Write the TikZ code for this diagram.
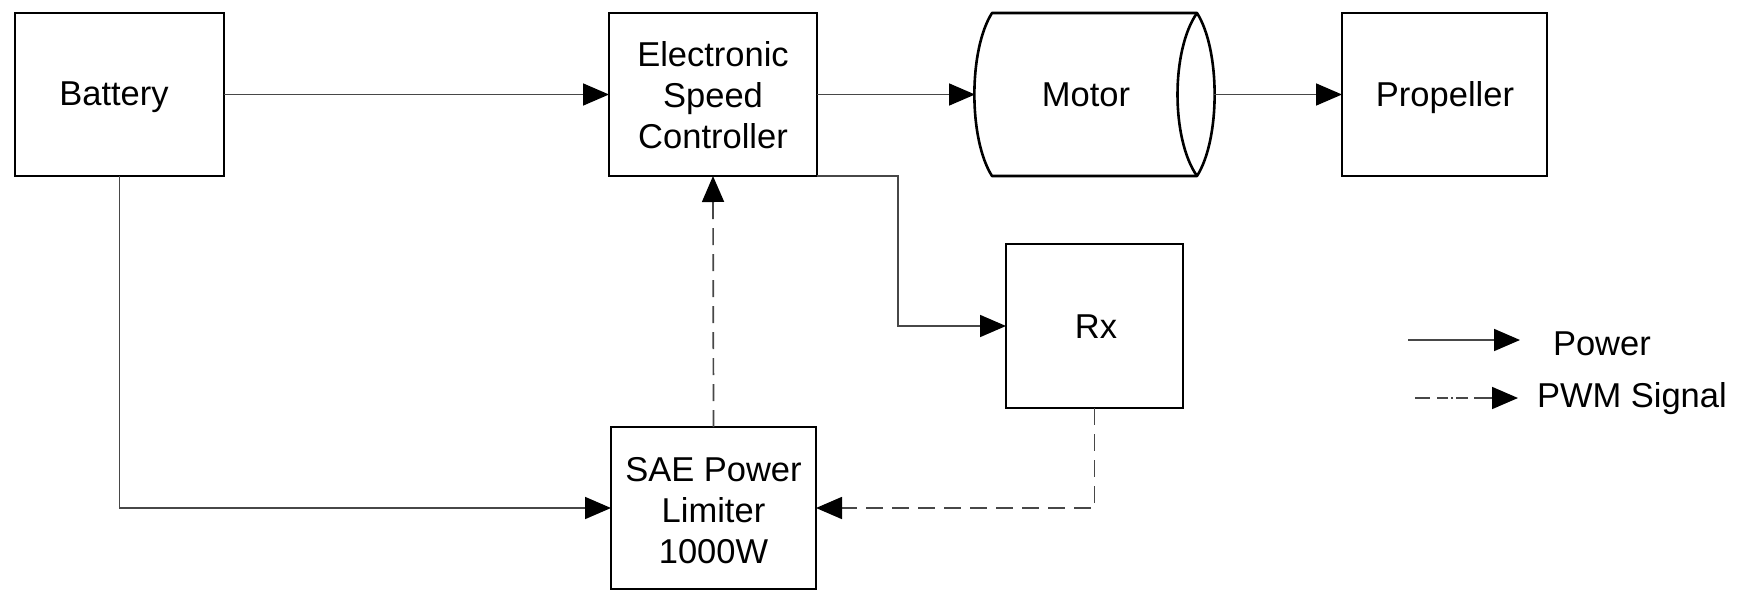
\documentclass[tikz,border=0pt]{standalone}
\usepackage{fontspec}
\setmainfont{Liberation Sans}
\usetikzlibrary{arrows.meta}
\begin{document}
\begin{tikzpicture}[x=1pt,y=-1pt,
  every node/.style={font=\fontsize{34.5}{41}\selectfont, inner sep=0pt, outer sep=0pt},
  blockbox/.style={draw=black, line width=2.6pt, align=center},
  conn/.style={draw=black!72, line width=1.7pt, -{Triangle[length=26pt,width=22pt,fill=black,color=black]}},
  sig/.style={conn, dash pattern=on 17pt off 9pt},
  motorline/.style={draw=black, line width=2.6pt}
]
\useasboundingbox (0,0) rectangle (1741,592);

\node[blockbox, minimum width=209pt, minimum height=163pt] (bat) at (119.5,94.5) {};
\node[anchor=base] (battext) at (114,105.5) {Battery};
\node[blockbox, minimum width=208pt, minimum height=163pt] (esc) at (713,94.5) {};
\node[align=center] (esctext) at (713,95) {Electronic\\Speed\\Controller};
\node[minimum width=239pt, minimum height=165pt] (motor) at (1094.5,94.5) {};
\node[anchor=base] (motortext) at (1086,106) {Motor};
\node[blockbox, minimum width=205pt, minimum height=163pt] (prop) at (1444.5,94.5) {};
\node[anchor=base] (proptext) at (1445,106.5) {Propeller};
\node[blockbox, minimum width=177pt, minimum height=164pt] (rx) at (1094.5,326) {};
\node[anchor=base] (rxtext) at (1096,338) {Rx};
\node[blockbox, minimum width=205pt, minimum height=162pt] (sae) at (713.5,508) {};
\node[align=center] (saetext) at (713.5,510.5) {SAE Power\\Limiter\\1000W};

% motor outline
\draw[motorline, line join=round] (992,13) -- (1197,13)
  .. controls (1220.5,50) and (1220.5,139) .. (1197,176)
  -- (992,176)
  .. controls (968.5,139) and (968.5,50) .. (992,13) -- cycle;
\draw[motorline] (1197,13) .. controls (1171,50) and (1171,139) .. (1197,176);

% connectors
\coordinate (escrx) at (898,0);
\draw[conn] (bat.east) -- (esc.west);
\draw[conn] (esc.east) -- (motor.west);
\draw[conn] (motor.east) -- (prop.west);
\draw[conn] (bat.south) |- (sae.west);
\draw[conn] (esc.south east) -- (esc.south east -| escrx) |- (rx.west);
\draw[sig] (sae.north) -- (esc.south);
\draw[sig] (rx.south) |- (sae.east);

% legend
\coordinate (lp1) at (1408,340);
\coordinate (lp2) at (1520,340);
\coordinate (ls1) at (1415,398);
\coordinate (ls2) at (1518,398);
\draw[conn] (lp1) -- (lp2);
\draw[conn, dash pattern=on 15pt off 7pt on 11pt off 3pt on 2pt off 3pt on 12pt off 6pt on 20pt] (ls1) -- (ls2);
\node[anchor=base west] (powertext) at (1553,355) {Power};
\node[anchor=base west] (pwmtext) at (1537,407) {PWM Signal};
\end{tikzpicture}
\end{document}
